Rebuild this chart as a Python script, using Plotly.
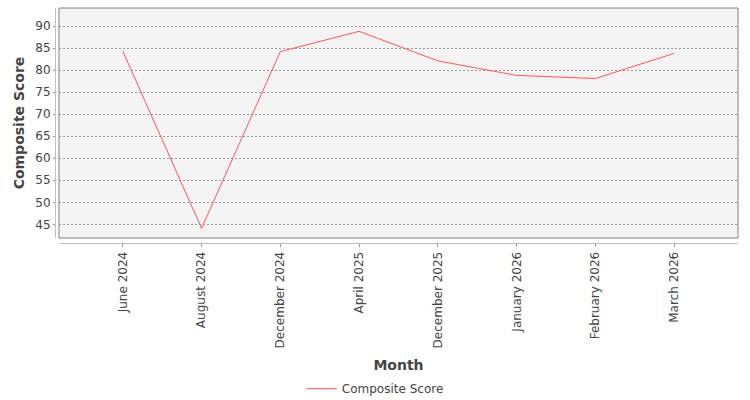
import plotly.graph_objects as go

months = ["June 2024", "August 2024", "December 2024", "April 2025",
          "December 2025", "January 2026", "February 2026", "March 2026"]
scores = [84.3, 44.1, 84.2, 88.8, 82.1, 78.8, 78.1, 83.8]
y_ticks = [45, 50, 55, 60, 65, 70, 75, 80, 85, 90]

FONT = "DejaVu Sans"

fig = go.Figure()
fig.add_trace(go.Scatter(
    x=list(range(len(months))), y=scores, mode="lines",
    name="Composite Score",
    line=dict(color="#FF5555", width=1),
))

W, H = 750, 400
l, r, t, b = 55, 12, 8, 157
pw, ph = W - l - r, H - t - b
xgap, ygap = 4 / pw, 5 / ph

fig.update_layout(
    width=W, height=H,
    margin=dict(l=l, r=r, t=t, b=b, pad=0, autoexpand=False),
    paper_bgcolor="white", plot_bgcolor="#F4F4F4",
    font=dict(family=FONT, size=12, color="#444444"),
    showlegend=True,
    legend=dict(orientation="h", x=0.469, xanchor="center", y=-0.62, yanchor="middle",
                itemwidth=30,
                font=dict(size=12, color="#444444"), bgcolor="rgba(0,0,0,0)"),
    xaxis=dict(
        domain=[xgap, 1], anchor="free", position=0, automargin=False,
        range=[-0.81, 7.81],
        tickmode="array", tickvals=list(range(len(months))), ticktext=months,
        tickangle=-90, ticks="outside", ticklen=3, tickcolor="#999999",
        showline=True, linecolor="#C0C0C0", linewidth=1,
        showgrid=False, zeroline=False,
        tickfont=dict(size=12, color="#444444"),
        title=dict(text="<b>Month</b>", font=dict(size=14, color="#444444"), standoff=12),
    ),
    yaxis=dict(
        domain=[ygap, 1], anchor="free", position=0, automargin=False,
        range=[41.9, 94.1],
        tickmode="array", tickvals=y_ticks,
        ticks="outside", ticklen=2, tickcolor="#999999",
        showline=True, linecolor="#C0C0C0", linewidth=1,
        showgrid=True, gridcolor="#999999", gridwidth=1, griddash="2px,2px",
        zeroline=False,
        tickfont=dict(size=12, color="#444444"),
        title=dict(text="<b>Composite Score</b>", font=dict(size=14, color="#444444"), standoff=6),
    ),
)

# plot-area frame
fig.add_shape(type="rect", xref="x domain", yref="y domain", x0=0, x1=1, y0=0, y1=1,
              line=dict(color="#808080", width=1), layer="above")

fig.write_html("out.html", config={"displayModeBar": False},
               post_script="document.body.style.margin='0';")
